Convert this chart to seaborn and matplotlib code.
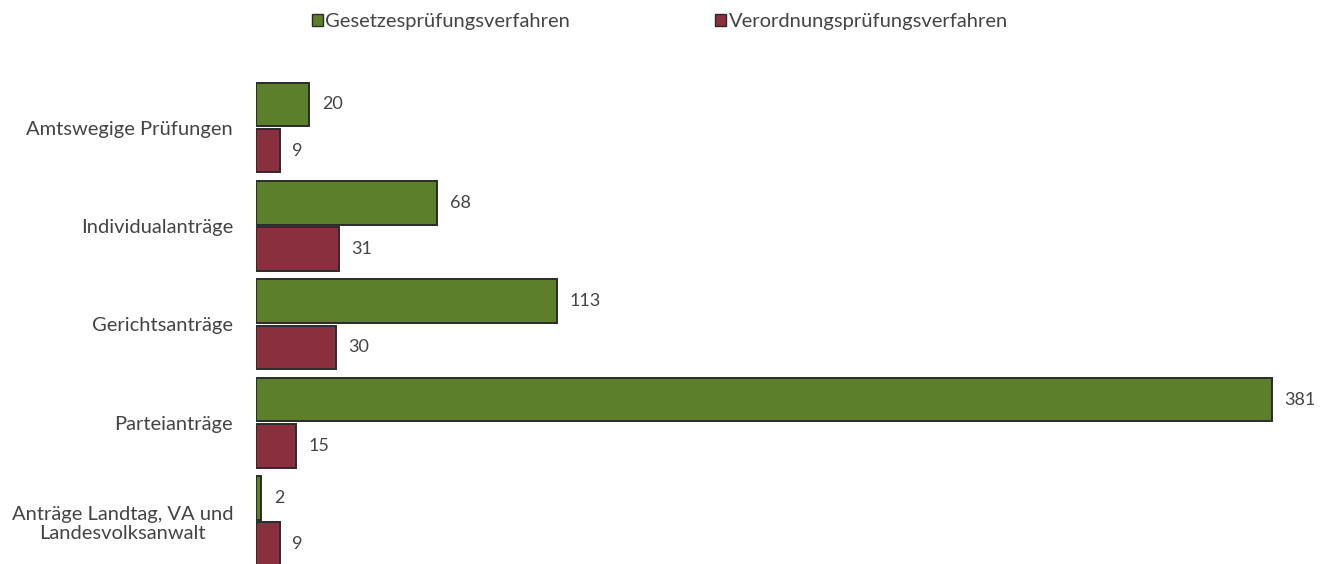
import pandas as pd
import matplotlib.pyplot as plt
import seaborn as sns

# Data
categories = ["Amtswegige Prüfungen", "Individualanträge", "Gerichtsanträge",
              "Parteianträge", "Anträge Landtag, VA und\nLandesvolksanwalt"]
gesetz = [20, 68, 113, 381, 2]
verordnung = [9, 31, 30, 15, 9]
series = ["Gesetzesprüfungsverfahren", "Verordnungsprüfungsverfahren"]
colors = ["#5b7f2b", "#8a2f3d"]

df = pd.DataFrame({
    "Kategorie": categories * 2,
    "Verfahren": [series[0]] * len(categories) + [series[1]] * len(categories),
    "Anzahl": gesetz + verordnung,
})

sns.set_theme(style="white")
plt.rcParams['font.family'] = ['Lato', 'DejaVu Sans']
text_color = "#444444"

fig = plt.figure(figsize=(13.25, 5.64), dpi=100)
ax = fig.add_axes([256 / 1325, -0.011, 0.805, 0.872])

sns.barplot(data=df, y="Kategorie", x="Anzahl", hue="Verfahren",
            palette=colors, orient="h", width=0.94, gap=0.06,
            edgecolor="#2b2b2b", linewidth=1.4, saturation=1, ax=ax)

ax.set_xlim(0, 400)
ax.set_ylim(4.5, -0.5)
ax.set_xlabel("")
ax.set_ylabel("")
ax.set_xticks([])
for s in ax.spines.values():
    s.set_visible(False)

ax.tick_params(axis="y", length=0, pad=16.5, labelsize=14.5, labelcolor=text_color)
for lbl in ax.get_yticklabels():
    lbl.set_multialignment("center")

for cont in ax.containers:
    ax.bar_label(cont, padding=9, fontsize=13, color=text_color)

sns.move_legend(ax, "center", bbox_to_anchor=(0.498, 0.961),
                bbox_transform=fig.transFigure, ncol=2, frameon=False,
                title=None, handlelength=0.55, handleheight=0.55,
                handletextpad=0.12, columnspacing=7.2, fontsize=14.5)
leg = ax.get_legend()
for t in leg.get_texts():
    t.set_color(text_color)
for h in leg.legend_handles:
    h.set_edgecolor("#2b2b2b")
    h.set_linewidth(1.0)

plt.savefig("out.png", dpi=100)
